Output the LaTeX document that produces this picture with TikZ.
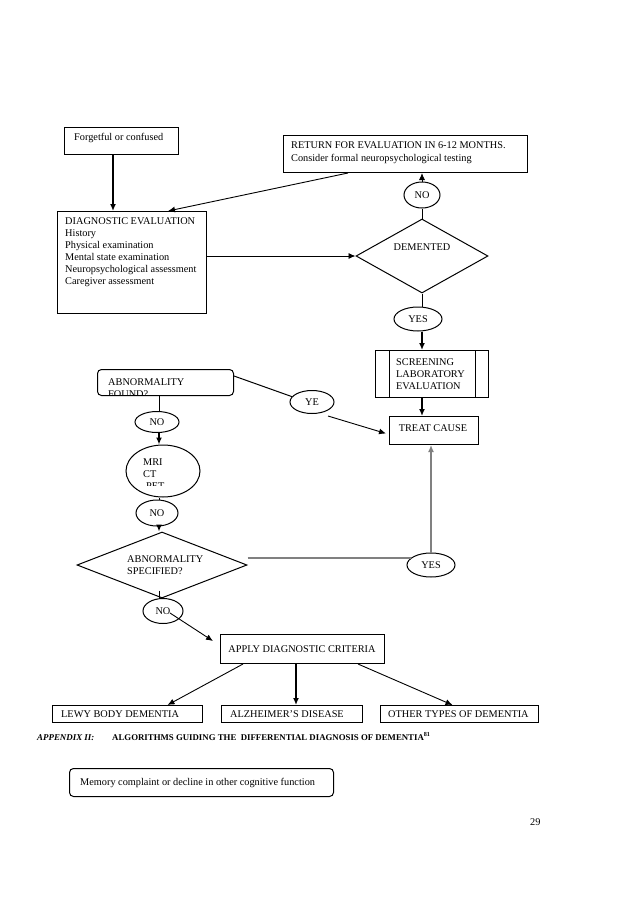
\documentclass[tikz,border=0pt]{standalone}
\usepackage{fontspec}
\setmainfont{Liberation Serif}
\usetikzlibrary{shapes.geometric,arrows.meta,calc}
\begin{document}
\begin{tikzpicture}[x=1pt,y=-1pt,
  font=\fontsize{10.3}{12}\selectfont,
  box/.style={draw,line width=1pt,inner sep=0,anchor=north west},
  rbox/.style={box,rounded corners=4pt},
  ell/.style={draw,ellipse,line width=1pt,inner sep=0},
  dia/.style={draw,diamond,line width=1pt,inner sep=0},
  txt/.style={anchor=base west,inner sep=0},
  ctxt/.style={anchor=base,inner sep=0},
  ln/.style={line width=1pt},
  arr/.style={line width=1.4pt,-{Latex[length=7pt,width=6pt]}},
  tarr/.style={line width=0.9pt,-{Latex[length=7pt,width=6pt]}},
  gln/.style={line width=1.4pt,draw=black!50},
  garr/.style={line width=1.4pt,draw=black!50,-{Latex[length=7pt,width=6pt]}}
]
\fill[white] (0,0) rectangle (638,903);
\useasboundingbox (0,0) rectangle (638,903);
\coordinate (lc) at (159,0);
\coordinate (a1) at (113,0);

% top
\node[box,minimum width=114,minimum height=27] (forget) at (64,127) {};
\node[txt] (forgett) at (74,140) {Forgetful or confused};

\node[box,minimum width=244,minimum height=37] (return) at (283,135) {};
\node[txt] (rt1) at (291,148.5) {RETURN FOR EVALUATION IN 6-12 MONTHS.};
\node[txt] (rt2) at (291,161) {Consider formal neuropsychological testing};

\node[ell,minimum width=36,minimum height=26] (no1) at (422,195) {NO};
\node[dia,minimum width=132,minimum height=74] (dem) at (422,256) {};
\node[ctxt] (demt) at (422,250.5) {DEMENTED};
\node[ell,minimum width=48,minimum height=24] (yes1) at (418,319) {YES};

\node[box,minimum width=113,minimum height=47] (screen) at (375,350) {};
\draw[ln] ($(screen.north west)+(14,0)$) -- ($(screen.south west)+(14,0)$);
\draw[ln] ($(screen.north east)+(-14,0)$) -- ($(screen.south east)+(-14,0)$);
\node[txt] (sc1) at (396,365.5) {SCREENING};
\node[txt] (sc2) at (396,377.2) {LABORATORY};
\node[txt] (sc3) at (396,389) {EVALUATION};

\node[box,minimum width=89,minimum height=28] (treat) at (389,416) {};
\node[ctxt] (treatt) at (433,431.5) {TREAT CAUSE};

\node[box,minimum width=149,minimum height=102] (diag) at (57,211) {};
\node[txt] (d1) at (65,224.5) {DIAGNOSTIC EVALUATION};
\node[txt] (d2) at (65,236.4) {History};
\node[txt] (d3) at (65,248.3) {Physical examination};
\node[txt] (d4) at (65,260.2) {Mental state examination};
\node[txt] (d5) at (65,272.1) {Neuropsychological assessment};
\node[txt] (d6) at (65,284) {Caregiver assessment};

% left column
\node[rbox,minimum width=136,minimum height=26] (abn) at (97,369) {};
\begin{scope}
\clip (97,369) rectangle (233,394);
\node[txt] (abn1) at (108,385.5) {ABNORMALITY};
\node[txt] (abn2) at (108,397.5) {FOUND?};
\end{scope}
\node[ell,minimum width=44,minimum height=23] (ye) at (312,402) {YE};
\node[ell,minimum width=44,minimum height=21] (no2) at (157,422) {NO};

\node[ell,minimum width=74,minimum height=52] (mri) at (163,471) {};
\node[txt] (mri1) at (143,465.5) {MRI};
\node[txt] (mri2) at (143,477.5) {CT};
\begin{scope}
\clip (120,440) rectangle (205,485);
\node[txt] (mri3) at (146,489.5) {PET};
\end{scope}
\node[ell,minimum width=42,minimum height=26] (no3) at (157,513) {NO};

\node[dia,minimum width=170,minimum height=66] (spec) at (162,565) {};
\node[txt] (sp1) at (127,562.5) {ABNORMALITY};
\node[txt] (sp2) at (127,574.2) {SPECIFIED?};
\node[ell,minimum width=48,minimum height=24] (yes2) at (431,565) {YES};
\node[ell,minimum width=40,minimum height=25] (no4) at (163,611) {NO};

% bottom
\node[box,minimum width=164,minimum height=29] (apply) at (220,634) {};
\node[ctxt] (applyt) at (302,652) {APPLY DIAGNOSTIC CRITERIA};
\node[box,minimum width=150,minimum height=17] (lewy) at (52,705) {};
\node[txt] (lewyt) at (61,717.5) {LEWY BODY DEMENTIA};
\node[box,minimum width=141,minimum height=17] (alz) at (221,705) {};
\node[txt] (alzt) at (230,717.5) {ALZHEIMER'S DISEASE};
\node[box,minimum width=158,minimum height=17] (other) at (380,705) {};
\node[txt] (othert) at (388,717.5) {OTHER TYPES OF DEMENTIA};

\node[txt,font=\fontsize{8.9}{10}\selectfont\bfseries\itshape] (capa) at (37,740) {APPENDIX II:};
\node[txt,font=\fontsize{8.8}{10}\selectfont\bfseries] (capb) at (112,740) {ALGORITHMS GUIDING THE\ \ DIFFERENTIAL DIAGNOSIS OF DEMENTIA\textsuperscript{81}};

\node[rbox,minimum width=264,minimum height=28] (mem) at (69,768) {};
\node[txt] (memt) at (80,785) {Memory complaint or decline in other cognitive function};
\node[txt] (page) at (530,825) {29};

% connectors
\draw[arr] (forget.south -| a1) -- (diag.north -| a1);
\draw[tarr] ($(return.south west)+(65,0)$) -- ($(diag.north west)+(111,0)$);
\draw[tarr] (no1.north) -- (return.south -| no1.north);
\draw[ln] (dem.north) -- (no1.south);
\draw[tarr] (dem.west -| diag.east) -- (dem.west);
\draw[ln] (dem.south) -- (dem.south |- yes1.north);
\draw[arr] (yes1.south -| dem.south) -- (screen.north -| dem.south);
\draw[arr] (screen.south -| dem.south) -- (treat.north -| dem.south);

\draw[ln] ($(abn.north east)+(0,7)$) -- (ye.165);
\draw[tarr] ($(ye.center)+(16,14)$) -- ($(treat.west)+(-3,3)$);
\draw[ln] (abn.south -| lc) -- (no2.north -| lc);
\draw[arr] (no2.south -| lc) -- (mri.north -| lc);
\draw[ln] (mri.south -| lc) -- (no3.north -| lc);
\draw[arr] (no3.south -| lc) -- (spec.north -| lc);
\draw[gln] ($(spec.east)+(0,-7)$) -- ($(yes2.west)+(4,-7)$);
\draw[garr] (yes2.north) -- (treat.south -| yes2.north);
\draw[ln] ($(spec.south -| lc)+(0,-8)$) -- (no4.north -| lc);
\draw[tarr] ($(no4.center)+(7,2)$) -- ($(apply.west)+(-7,-8)$);
\path ($(alz.north)+(4,0)$) coordinate (mid);
\draw[tarr] ($(apply.south west)+(23,0)$) -- ($(lewy.north)+(40,0)$);
\draw[arr] (apply.south -| mid) -- (mid);
\draw[tarr] ($(apply.south east)+(-27,0)$) -- ($(other.north)+(-7,0)$);
\end{tikzpicture}
\end{document}
